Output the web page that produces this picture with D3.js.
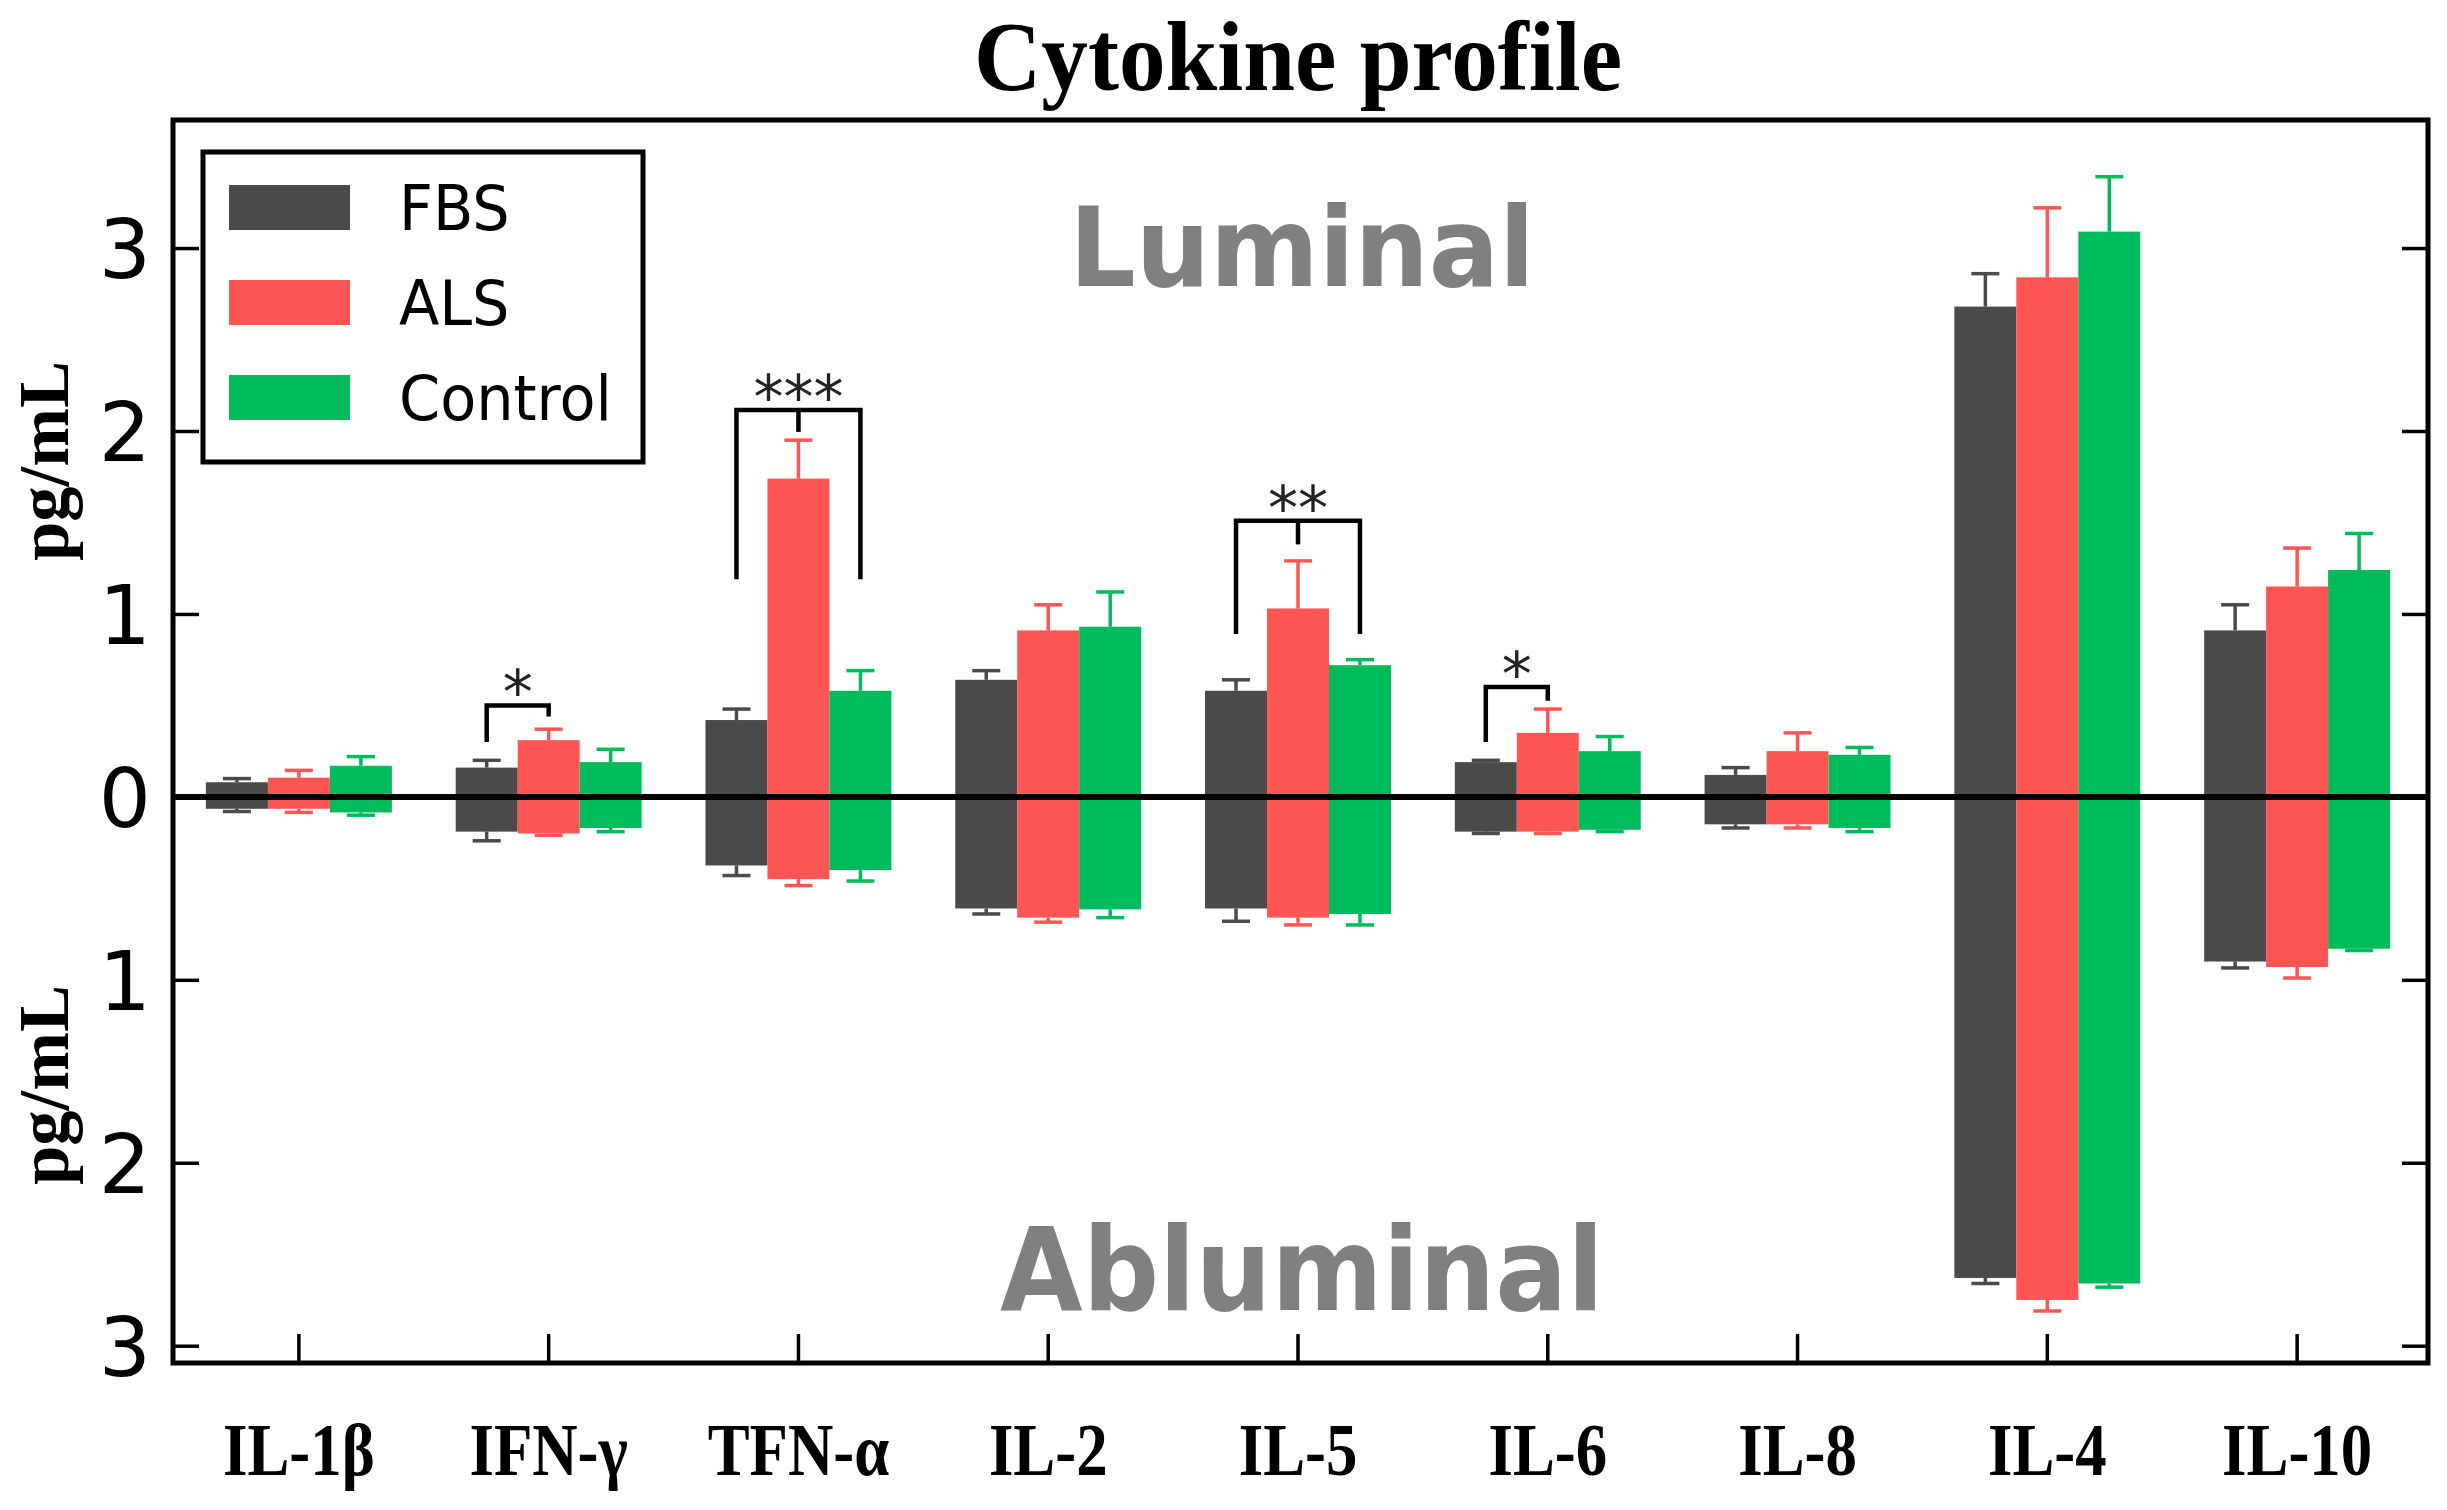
<!DOCTYPE html>
<html>
<head>
<meta charset="utf-8">
<script src="https://cdn.jsdelivr.net/npm/d3@7"></script>
<style>
  body { margin: 0; background: #fff; }
  svg { display: block; }
</style>
</head>
<body>
<svg id="chart" width="2447" height="1510"></svg>
<script>
// categories and groups
const categories = ["IL-1β", "IFN-γ", "TFN-α", "IL-2", "IL-5", "IL-6", "IL-8", "IL-4", "IL-10"];
const groups = ["FBS", "ALS", "Control"];

// luminal means (pg/mL) and error
const lumFBS = [0.08, 0.16, 0.42, 0.64, 0.58, 0.19, 0.12, 2.68, 0.91];
const lumFBSErr = [0.02, 0.04, 0.06, 0.05, 0.06, 0.01, 0.04, 0.18, 0.14];
const lumALS = [0.105, 0.31, 1.74, 0.91, 1.03, 0.35, 0.25, 2.84, 1.15];
const lumALSErr = [0.04, 0.06, 0.21, 0.14, 0.26, 0.13, 0.10, 0.38, 0.21];
const lumCtrl = [0.17, 0.19, 0.58, 0.93, 0.72, 0.25, 0.23, 3.09, 1.24];
const lumCtrlErr = [0.05, 0.07, 0.11, 0.19, 0.03, 0.08, 0.04, 0.30, 0.20];

// abluminal means (pg/mL) and error
const abFBS = [0.065, 0.19, 0.375, 0.61, 0.61, 0.19, 0.15, 2.63, 0.90];
const abFBSErr = [0.015, 0.05, 0.055, 0.03, 0.07, 0.01, 0.02, 0.03, 0.035];
const abALS = [0.065, 0.20, 0.45, 0.66, 0.66, 0.19, 0.15, 2.75, 0.93];
const abALSErr = [0.02, 0.01, 0.035, 0.025, 0.04, 0.01, 0.02, 0.06, 0.06];
const abCtrl = [0.085, 0.17, 0.40, 0.615, 0.64, 0.18, 0.17, 2.66, 0.83];
const abCtrlErr = [0.015, 0.02, 0.06, 0.045, 0.06, 0.01, 0.02, 0.02, 0.01];

const yTicks = [-3, -2, -1, 0, 1, 2, 3];

// significance brackets
const sigCats = ["IFN-γ", "TFN-α", "IL-5", "IL-6"];
const sigText = ["*", "***", "**", "*"];
const sigFrom = ["FBS", "FBS", "FBS", "FBS"];
const sigTo = ["ALS", "Control", "Control", "ALS"];
const sigLevel = [0.50, 2.115, 1.51, 0.60];
const sigLeftEnd = [0.30, 1.19, 0.89, 0.30];
const sigRightEnd = [0.44, 1.19, 0.89, 0.525];
const sigMidEnd = [null, 1.995, 1.38, null];

const colors = { FBS: "#4a4a4a", ALS: "#ff5553", Control: "#00bb5c" };

const svg = d3.select("#chart");

const x = d3.scaleBand().domain(categories).range([174, 2422]).padding(0);
const xs = d3.scaleBand().domain(groups).range([0, x.bandwidth()])
    .paddingInner(0).paddingOuter(0.515);
const y = d3.scaleLinear().domain([-3.1, 3.7]).range([1364, 120]);

function squeeze(sel, f) {
    sel.each(function() {
        const w = this.getComputedTextLength();
        d3.select(this).attr("textLength", w * f).attr("lengthAdjust", "spacingAndGlyphs");
    });
}

const lumVals = { FBS: lumFBS, ALS: lumALS, Control: lumCtrl };
const lumErrs = { FBS: lumFBSErr, ALS: lumALSErr, Control: lumCtrlErr };
const abVals = { FBS: abFBS, ALS: abALS, Control: abCtrl };
const abErrs = { FBS: abFBSErr, ALS: abALSErr, Control: abCtrlErr };

const rows = [];
groups.forEach(g => {
    categories.forEach((c, i) => {
        rows.push({ cat: c, group: g, lum: lumVals[g][i], lumErr: lumErrs[g][i],
                    ab: abVals[g][i], abErr: abErrs[g][i] });
    });
});

const cx = d => x(d.cat) + xs(d.group) + xs.bandwidth() / 2;

// bars
const barG = svg.append("g");
barG.selectAll("rect.lum")
    .data(rows)
    .enter()
    .append("rect")
    .attr("x", d => x(d.cat) + xs(d.group))
    .attr("width", xs.bandwidth())
    .attr("y", d => y(d.lum))
    .attr("height", d => y(0) - y(d.lum))
    .attr("fill", d => colors[d.group]);

barG.selectAll("rect.ab")
    .data(rows)
    .enter()
    .append("rect")
    .attr("x", d => x(d.cat) + xs(d.group))
    .attr("width", xs.bandwidth())
    .attr("y", y(0))
    .attr("height", d => y(-d.ab) - y(0))
    .attr("fill", d => colors[d.group]);

// error bars
const errG = svg.append("g").attr("stroke-width", 3.5);
rows.forEach(d => {
    const c = colors[d.group];
    const top = y(d.lum + d.lumErr);
    const bot = y(-(d.ab + d.abErr));
    errG.append("line").attr("x1", cx(d)).attr("x2", cx(d))
        .attr("y1", y(d.lum)).attr("y2", top).attr("stroke", c);
    errG.append("line").attr("x1", cx(d) - 14).attr("x2", cx(d) + 14)
        .attr("y1", top).attr("y2", top).attr("stroke", c);
    errG.append("line").attr("x1", cx(d)).attr("x2", cx(d))
        .attr("y1", y(-d.ab)).attr("y2", bot).attr("stroke", c);
    errG.append("line").attr("x1", cx(d) - 14).attr("x2", cx(d) + 14)
        .attr("y1", bot).attr("y2", bot).attr("stroke", c);
});

// zero line
svg.append("line")
    .attr("x1", 173).attr("x2", 2428)
    .attr("y1", y(0)).attr("y2", y(0))
    .attr("stroke", "#000").attr("stroke-width", 6);

// axes
const leftAxis = d3.axisLeft(y).tickValues(yTicks).tickSize(-26).tickPadding(22)
    .tickFormat(d => Math.abs(d));
const gl = svg.append("g").attr("transform", "translate(173,0)").call(leftAxis);
gl.select(".domain").remove();
gl.selectAll("line").attr("stroke", "#000").attr("stroke-width", 3.5);
gl.selectAll("text")
    .attr("font-family", "DejaVu Sans")
    .attr("font-size", 82)
    .attr("dy", "0.36em")
    .attr("fill", "#000");

const rightAxis = d3.axisRight(y).tickValues(yTicks).tickSize(-26).tickFormat("");
const gr = svg.append("g").attr("transform", "translate(2428,0)").call(rightAxis);
gr.select(".domain").remove();
gr.selectAll("line").attr("stroke", "#000").attr("stroke-width", 3.5);

const bottomAxis = d3.axisBottom(x).tickSize(-29);
const gb = svg.append("g").attr("transform", "translate(0,1363)").call(bottomAxis);
gb.select(".domain").remove();
gb.selectAll("line").attr("stroke", "#000").attr("stroke-width", 3.5);
gb.selectAll("text")
    .attr("y", 112).attr("dy", null)
    .attr("font-family", "Liberation Serif")
    .attr("font-weight", "bold")
    .attr("font-size", 73)
    .attr("fill", "#000")
    .call(squeeze, 0.86);

// frame
svg.append("rect")
    .attr("x", 173).attr("y", 120)
    .attr("width", 2428 - 173).attr("height", 1363 - 120)
    .attr("fill", "none").attr("stroke", "#000").attr("stroke-width", 5);

// significance brackets
const sigG = svg.append("g");
sigCats.forEach((c, i) => {
    const x1 = x(c) + xs(sigFrom[i]) + xs.bandwidth() / 2;
    const x2 = x(c) + xs(sigTo[i]) + xs.bandwidth() / 2;
    const yl = y(sigLevel[i]);
    const path = d3.path();
    path.moveTo(x1, y(sigLeftEnd[i]));
    path.lineTo(x1, yl);
    path.lineTo(x2, yl);
    path.lineTo(x2, y(sigRightEnd[i]));
    sigG.append("path").attr("d", path.toString())
        .attr("fill", "none").attr("stroke", "#000").attr("stroke-width", 4.5);
    let xm = (x1 + x2) / 2;
    if (sigMidEnd[i] !== null) {
        xm = x(c) + xs("ALS") + xs.bandwidth() / 2;
        sigG.append("line").attr("x1", xm).attr("x2", xm)
            .attr("y1", yl).attr("y2", y(sigMidEnd[i]))
            .attr("stroke", "#000").attr("stroke-width", 4.5);
    }
    sigG.append("text")
        .attr("x", xm).attr("y", yl + 8)
        .attr("text-anchor", "middle")
        .attr("font-family", "DejaVu Sans")
        .attr("font-size", 60)
        .attr("fill", "#222")
        .text(sigText[i]);
});

// legend
const leg = svg.append("g");
leg.append("rect")
    .attr("x", 203).attr("y", 152).attr("width", 440).attr("height", 310)
    .attr("fill", "#fff").attr("stroke", "#000").attr("stroke-width", 5);
groups.forEach((g, i) => {
    const base = 230 + i * 95;
    leg.append("rect")
        .attr("x", 229).attr("y", base - 45).attr("width", 121).attr("height", 45)
        .attr("fill", colors[g]);
    leg.append("text")
        .attr("x", 399).attr("y", base)
        .attr("font-family", "DejaVu Sans")
        .attr("font-size", 62)
        .attr("fill", "#000")
        .text(g)
        .call(squeeze, 0.95);
});

// region labels
svg.append("text")
    .attr("x", 1302).attr("y", 286)
    .attr("text-anchor", "middle")
    .attr("font-family", "DejaVu Sans").attr("font-weight", "bold")
    .attr("font-size", 111).attr("fill", "#808080")
    .text("Luminal")
    .call(squeeze, 0.94);
svg.append("text")
    .attr("x", 1302).attr("y", 1310)
    .attr("text-anchor", "middle")
    .attr("font-family", "DejaVu Sans").attr("font-weight", "bold")
    .attr("font-size", 116).attr("fill", "#808080")
    .text("Abluminal")
    .call(squeeze, 0.92);

// title
svg.append("text")
    .attr("x", 1298).attr("y", 90)
    .attr("text-anchor", "middle")
    .attr("font-family", "Liberation Serif").attr("font-weight", "bold")
    .attr("font-size", 100).attr("fill", "#000")
    .text("Cytokine profile")
    .attr("textLength", 648).attr("lengthAdjust", "spacingAndGlyphs");

// y labels
[461, 1085].forEach(cy => {
    svg.append("text")
        .attr("transform", `translate(68,${cy}) rotate(-90)`)
        .attr("text-anchor", "middle")
        .attr("font-family", "Liberation Serif").attr("font-weight", "bold")
        .attr("font-size", 72).attr("fill", "#000")
        .text("pg/mL")
        .attr("textLength", 200).attr("lengthAdjust", "spacingAndGlyphs");
});
</script>
</body>
</html>
